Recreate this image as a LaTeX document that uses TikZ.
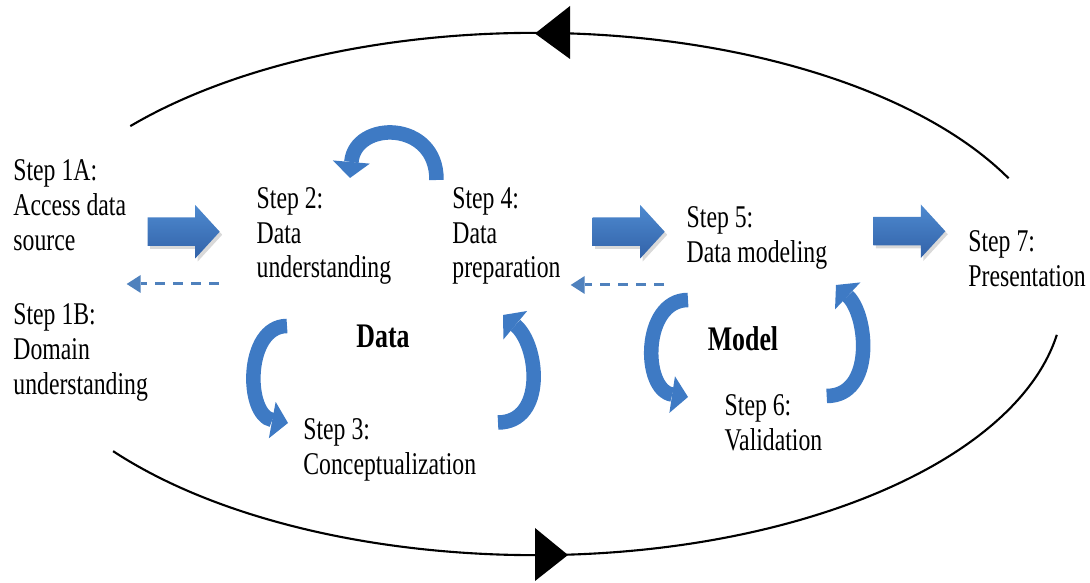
\documentclass[tikz,border=0pt]{standalone}
\usepackage{fontspec}
\setmainfont{Liberation Serif}[FakeStretch=0.75]
\usetikzlibrary{arrows.meta}
\usetikzlibrary{shadows}

\definecolor{cycblue}{RGB}{62,122,196}
\definecolor{blocktop}{RGB}{78,138,208}
\definecolor{blockbot}{RGB}{50,98,168}
\definecolor{dashblue}{RGB}{79,129,189}

\tikzset{
  steptext/.style={anchor=north west, inner sep=0pt, align=left, font=\fontsize{9pt}{9.9pt}\selectfont},
  phase/.style={anchor=north, inner sep=0pt, font=\fontsize{9.8pt}{10pt}\selectfont\bfseries},
  loopline/.style={line width=0.6pt},
  cycarrow/.style={draw=cycblue, line width=1.45mm, -{Triangle[length=1.6mm,width=3.7mm,line width=0pt]}},
  backarrow/.style={draw=dashblue, line width=0.3mm, dash pattern=on 1mm off 0.8mm, -{Triangle[length=1.4mm,width=1.8mm,line width=0pt]}},
  blockarrow/.style={top color=blocktop, bottom color=blockbot, drop shadow={shadow xshift=0.25mm, shadow yshift=-0.3mm, opacity=0.3}},
}

\begin{document}
\begin{tikzpicture}[x=0.01cm, y=-0.01cm]
\useasboundingbox (0,0) rectangle (1090,583);

% outer loop
\coordinate (O) at (535,294);
\draw[loopline] ([shift={(26.3:52.8mm and 26.1mm)}]O) arc[start angle=26.3, end angle=140, x radius=52.8mm, y radius=26.1mm];
\draw[loopline] ([shift={(217:52.8mm and 26.1mm)}]O) arc[start angle=217, end angle=351, x radius=52.8mm, y radius=26.1mm];
\fill (535,33.5) -- (570,6) -- (570,59) -- cycle;
\fill (568,555) -- (535,528) -- (535,581) -- cycle;

% steps
\node[steptext] (s1a) at (12.7,159.3) {Step 1A:\\Access data\\source};
\node[steptext] (s1b) at (12.7,303) {Step 1B:\\Domain\\understanding};
\node[steptext] (s2) at (256,186.7) {Step 2:\\Data\\understanding};
\node[steptext] (s4) at (451.7,186.7) {Step 4:\\Data\\preparation};
\node[steptext] (s3) at (302.7,418) {Step 3:\\Conceptualization};
\node[steptext] (s5) at (686,206) {Step 5:\\Data modeling};
\node[steptext] (s6) at (724,394) {Step 6:\\Validation};
\node[steptext] (s7) at (967.7,230) {Step 7:\\Presentation};
\node[phase] (data) at (383,324) {Data};
\node[phase] (model) at (743,325.5) {Model};

% block arrows
\path[blockarrow] (147.7,217.5) -- ++(47.5,0) -- ++(0,-12.5) -- ++(24.5,26.75) -- ++(-24.5,26.75) -- ++(0,-12.5) -- ++(-47.5,0) -- cycle;
\path[blockarrow] (592.7,217.5) -- ++(47.5,0) -- ++(0,-12.5) -- ++(24.5,26.75) -- ++(-24.5,26.75) -- ++(0,-12.5) -- ++(-47.5,0) -- cycle;
\path[blockarrow] (873.3,217) -- ++(47.5,0) -- ++(0,-12.5) -- ++(24.5,26.75) -- ++(-24.5,26.75) -- ++(0,-12.5) -- ++(-47.5,0) -- cycle;

% going back
\draw[backarrow] (219,284) -- (126.7,284);
\draw[backarrow] (664,285) -- (570.7,285);

% cycles
\draw[cycarrow] (436.5,180) .. controls (437,120) and (355,120) .. (350,178);
\draw[cycarrow] (287,326) .. controls (245,326) and (245,415) .. (288,423);
\draw[cycarrow] (498,422.5) .. controls (546,422.5) and (539,345) .. (503,315);
\draw[cycarrow] (688,300) .. controls (642,300) and (642,390) .. (688,397);
\draw[cycarrow] (826.7,396) .. controls (875,396) and (868,315) .. (836,285);
\end{tikzpicture}
\end{document}
